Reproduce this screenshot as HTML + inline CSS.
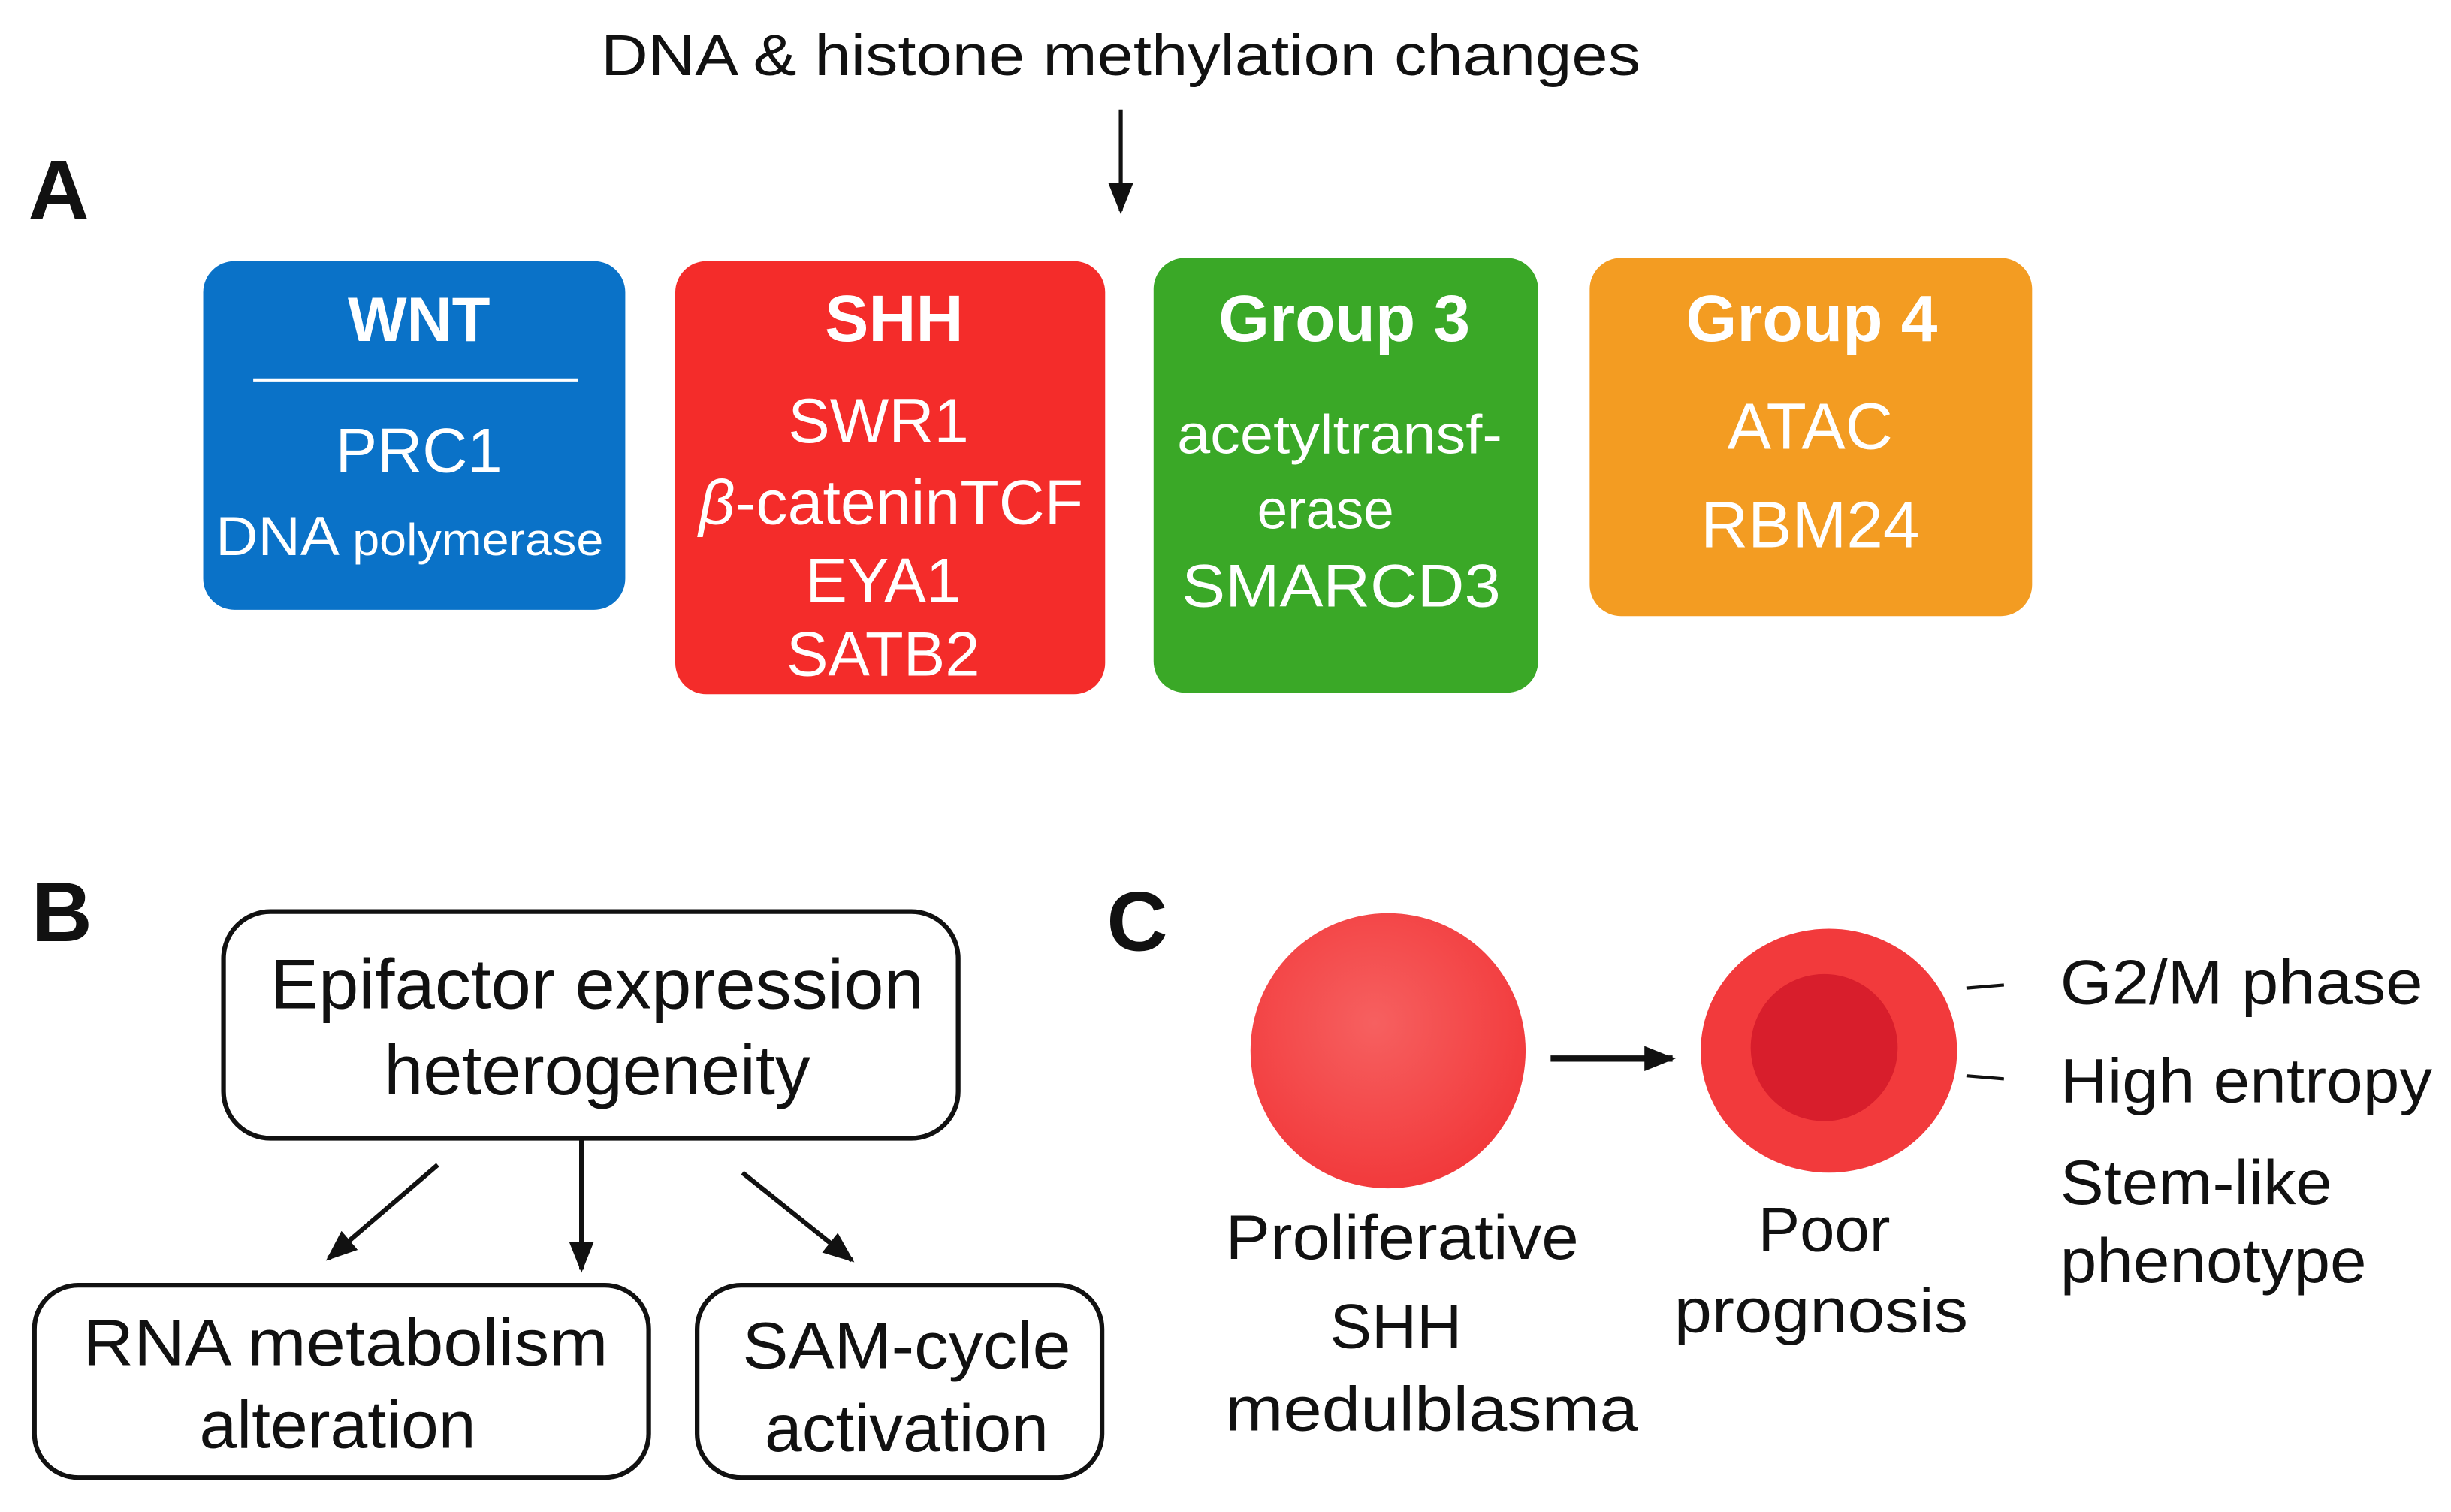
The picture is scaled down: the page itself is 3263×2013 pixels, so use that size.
<!DOCTYPE html>
<html><head><meta charset="utf-8"><style>html,body{margin:0;padding:0;background:#fff}svg{display:block}</style></head><body>
<svg xmlns="http://www.w3.org/2000/svg" width="3263" height="2013" viewBox="0 0 1568 967" preserveAspectRatio="none" font-family="Liberation Sans, Arial, sans-serif">
<defs>
<radialGradient id="g1" cx="0.45" cy="0.4" r="0.6"><stop offset="0" stop-color="#f66060"/><stop offset="1" stop-color="#f23a3c"/></radialGradient>
<marker id="ah2" viewBox="0 0 10 10" refX="9" refY="5" markerWidth="20" markerHeight="20" orient="auto" markerUnits="userSpaceOnUse"><path d="M0,1 L10,5 L0,9 z" fill="#111"/></marker>
</defs>
<text x="717" y="48" font-size="37" text-anchor="middle" fill="#111" textLength="665" lengthAdjust="spacingAndGlyphs">DNA &amp; histone methylation changes</text>
<line x1="717" y1="70" x2="717" y2="135" stroke="#111" stroke-width="2.5" marker-end="url(#ah2)"/>
<text x="18" y="140" font-size="54" font-weight="bold" fill="#111">A</text>

<rect x="130" y="167" width="270" height="223" rx="20" fill="#0a72c8"/>
<text x="268" y="218" font-size="40" font-weight="bold" fill="#fff" text-anchor="middle">WNT</text>
<line x1="162" y1="243" x2="370" y2="243" stroke="#fff" stroke-width="2"/>
<text x="268" y="302" font-size="40" fill="#fff" text-anchor="middle">PRC1</text>
<text x="262" y="355" fill="#fff" text-anchor="middle" textLength="248" lengthAdjust="spacingAndGlyphs"><tspan font-size="35">DNA </tspan><tspan font-size="29">polymerase</tspan></text>

<rect x="432" y="167" width="275" height="277" rx="20" fill="#f42c2a"/>
<text x="572" y="218" font-size="42" font-weight="bold" fill="#fff" text-anchor="middle">SHH</text>
<text x="562" y="283" font-size="40" fill="#fff" text-anchor="middle">SWR1</text>
<text x="570" y="335" font-size="40" fill="#fff" text-anchor="middle" textLength="246" lengthAdjust="spacingAndGlyphs"><tspan font-style="italic">β</tspan>-cateninTCF</text>
<text x="565" y="385" font-size="40" fill="#fff" text-anchor="middle">EYA1</text>
<text x="565" y="432" font-size="40" fill="#fff" text-anchor="middle">SATB2</text>

<rect x="738" y="165" width="246" height="278" rx="20" fill="#3aa827"/>
<text x="860" y="218" font-size="42" font-weight="bold" fill="#fff" text-anchor="middle">Group 3</text>
<text x="857" y="290" font-size="35" fill="#fff" text-anchor="middle" textLength="208" lengthAdjust="spacingAndGlyphs">acetyltransf-</text>
<text x="848" y="338" font-size="35" fill="#fff" text-anchor="middle">erase</text>
<text x="858" y="388" font-size="39" fill="#fff" text-anchor="middle" textLength="204" lengthAdjust="spacingAndGlyphs">SMARCD3</text>

<rect x="1017" y="165" width="283" height="229" rx="20" fill="#f39c22"/>
<text x="1159" y="218" font-size="42" font-weight="bold" fill="#fff" text-anchor="middle">Group 4</text>
<text x="1158" y="287" font-size="42" fill="#fff" text-anchor="middle">ATAC</text>
<text x="1158" y="350" font-size="42" fill="#fff" text-anchor="middle">RBM24</text>

<text x="20" y="602" font-size="54" font-weight="bold" fill="#111">B</text>
<rect x="143" y="583" width="470" height="145" rx="30" fill="#fff" stroke="#111" stroke-width="3"/>
<text x="382" y="645" font-size="45" fill="#111" text-anchor="middle" textLength="418" lengthAdjust="spacingAndGlyphs">Epifactor expression</text>
<text x="382" y="700" font-size="45" fill="#111" text-anchor="middle">heterogeneity</text>
<line x1="280" y1="745" x2="210" y2="805" stroke="#111" stroke-width="3" marker-end="url(#ah2)"/>
<line x1="372" y1="728" x2="372" y2="812" stroke="#111" stroke-width="3" marker-end="url(#ah2)"/>
<line x1="475" y1="750" x2="545" y2="806" stroke="#111" stroke-width="3" marker-end="url(#ah2)"/>
<rect x="22" y="822" width="393" height="123" rx="28" fill="#fff" stroke="#111" stroke-width="3"/>
<text x="221" y="873" font-size="42" fill="#111" text-anchor="middle" textLength="336" lengthAdjust="spacingAndGlyphs">RNA metabolism</text>
<text x="216" y="926" font-size="43" fill="#111" text-anchor="middle">alteration</text>
<rect x="446" y="822" width="259" height="123" rx="28" fill="#fff" stroke="#111" stroke-width="3"/>
<text x="580" y="875" font-size="42" fill="#111" text-anchor="middle" textLength="210" lengthAdjust="spacingAndGlyphs">SAM-cycle</text>
<text x="580" y="928" font-size="43" fill="#111" text-anchor="middle">activation</text>

<text x="708" y="608" font-size="54" font-weight="bold" fill="#111">C</text>
<circle cx="888" cy="672" r="88" fill="url(#g1)"/>
<line x1="992" y1="677" x2="1070" y2="677" stroke="#111" stroke-width="4" marker-end="url(#ah2)"/>
<ellipse cx="1170" cy="672" rx="82" ry="78" fill="#f23a3c"/>
<circle cx="1167" cy="670" r="47" fill="#d81e2c"/>
<line x1="1258" y1="632" x2="1282" y2="630" stroke="#111" stroke-width="2"/>
<line x1="1258" y1="688" x2="1282" y2="690" stroke="#111" stroke-width="2"/>
<text x="1318" y="642" font-size="40" fill="#111" textLength="232" lengthAdjust="spacingAndGlyphs">G2/M phase</text>
<text x="1318" y="705" font-size="40" fill="#111" textLength="238" lengthAdjust="spacingAndGlyphs">High entropy</text>
<text x="1318" y="770" font-size="40" fill="#111" textLength="174" lengthAdjust="spacingAndGlyphs">Stem-like</text>
<text x="1318" y="820" font-size="40" fill="#111" textLength="196" lengthAdjust="spacingAndGlyphs">phenotype</text>
<text x="897" y="805" font-size="40" fill="#111" text-anchor="middle" textLength="226" lengthAdjust="spacingAndGlyphs">Proliferative</text>
<text x="893" y="862" font-size="40" fill="#111" text-anchor="middle">SHH</text>
<text x="916" y="915" font-size="40" fill="#111" text-anchor="middle" textLength="264" lengthAdjust="spacingAndGlyphs">medulblasma</text>
<text x="1167" y="800" font-size="40" fill="#111" text-anchor="middle">Poor</text>
<text x="1165" y="852" font-size="40" fill="#111" text-anchor="middle" textLength="188" lengthAdjust="spacingAndGlyphs">prognosis</text>
</svg>
</body></html>
